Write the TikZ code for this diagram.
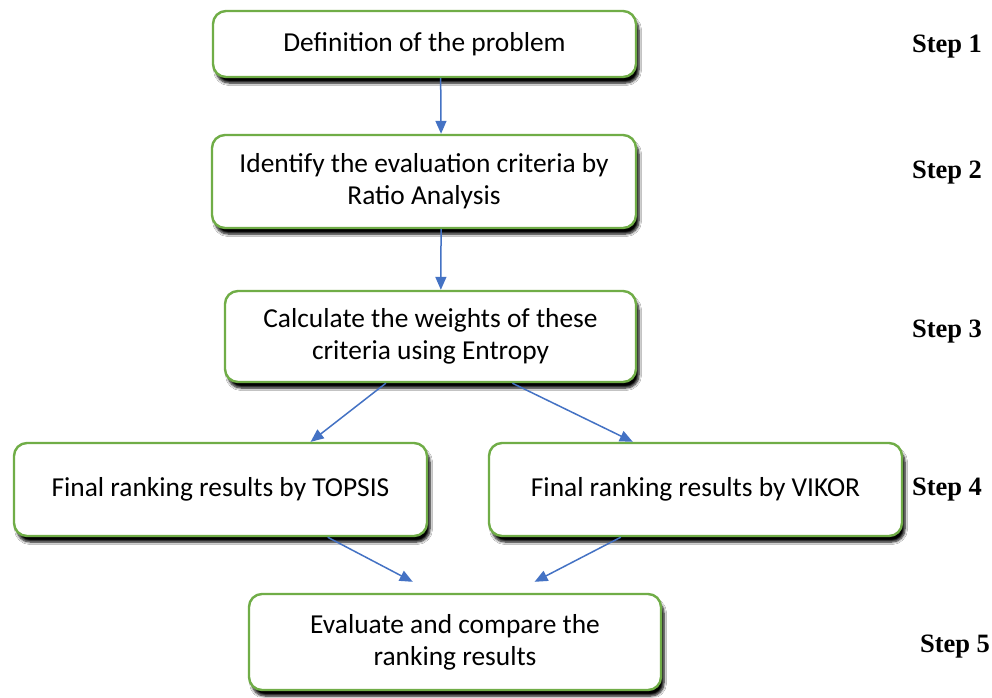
\documentclass[tikz,border=0pt]{standalone}
\usepackage{fontspec}
\setmainfont{Carlito}
\newfontfamily\stepfont{Liberation Serif}
\usetikzlibrary{arrows.meta,shadows.blur,calc}
\definecolor{boxgreen}{RGB}{112,173,71}
\definecolor{arrowblue}{RGB}{68,114,196}
\tikzset{
  stepbox/.style={draw=boxgreen, line width=2.4pt, fill=white, rounded corners=13pt,
    align=center, inner sep=0pt,
    font=\fontsize{27.4}{32}\selectfont,
    blur shadow={shadow xshift=3pt, shadow yshift=-6pt, shadow blur steps=6, shadow blur radius=2.5pt, shadow opacity=100}},
  steplabel/.style={font=\stepfont\bfseries\fontsize{26.5}{30}\selectfont, inner sep=0pt},
  flow/.style={draw=arrowblue, line width=1.5pt, -{Triangle[length=13pt,width=11pt]}}
}
\begin{document}
\begin{tikzpicture}[x=1pt,y=-1pt]
\useasboundingbox (0,0) rectangle (992,697);
\fill[white] (0,0) rectangle (992,697);
\node[stepbox, minimum width=423pt, minimum height=66pt] (b1) at (424.5,44) {Definition of the problem};
\node[stepbox, minimum width=424pt, minimum height=93pt] (b2) at (424,181.5) {Identify the evaluation criteria by\\Ratio Analysis};
\node[stepbox, minimum width=411pt, minimum height=91pt] (b3) at (430.5,336.5) {Calculate the weights of these\\criteria using Entropy};
\node[stepbox, minimum width=413pt, minimum height=93pt] (b4l) at (220.5,489.5) {Final ranking results by TOPSIS};
\node[stepbox, minimum width=413pt, minimum height=93pt] (b4r) at (695.5,489.5) {Final ranking results by VIKOR};
\node[stepbox, minimum width=412pt, minimum height=96pt] (b5) at (455,642) {Evaluate and compare the\\ranking results};

\node[steplabel] (s1) at (947,47) {Step 1};
\node[steplabel] (s2) at (947,173) {Step 2};
\node[steplabel] (s3) at (947,332) {Step 3};
\node[steplabel] (s4) at (947,490) {Step 4};
\node[steplabel] (s5) at (955,647) {Step 5};

\coordinate (a1s) at ($(b1.south west)!0.538!(b1.south east)$);
\coordinate (a1e) at ($(b2.north west)!0.540!(b2.north east)$);
\coordinate (a2s) at ($(b2.south west)!0.540!(b2.south east)$);
\coordinate (a2e) at ($(b3.north west)!0.525!(b3.north east)$);
\coordinate (a3ls) at ($(b3.south west)!0.392!(b3.south east)$);
\coordinate (a3le) at ($(b4l.north west)!0.717!(b4l.north east)$);
\coordinate (a3rs) at ($(b3.south west)!0.698!(b3.south east)$);
\coordinate (a3re) at ($(b4r.north west)!0.349!(b4r.north east)$);
\coordinate (a4ls) at ($(b4l.south west)!0.758!(b4l.south east)$);
\coordinate (a4le) at ($(b5.north west)!0.398!(b5.north east)+(0,-11)$);
\coordinate (a4rs) at ($(b4r.south west)!0.32!(b4r.south east)$);
\coordinate (a4re) at ($(b5.north west)!0.692!(b5.north east)+(0,-11)$);

\draw[flow] (a1s) -- (a1e);
\draw[flow] (a2s) -- (a2e);
\draw[flow] (a3ls) -- (a3le);
\draw[flow] (a3rs) -- (a3re);
\draw[flow] (a4ls) -- (a4le);
\draw[flow] (a4rs) -- (a4re);
\end{tikzpicture}
\end{document}
